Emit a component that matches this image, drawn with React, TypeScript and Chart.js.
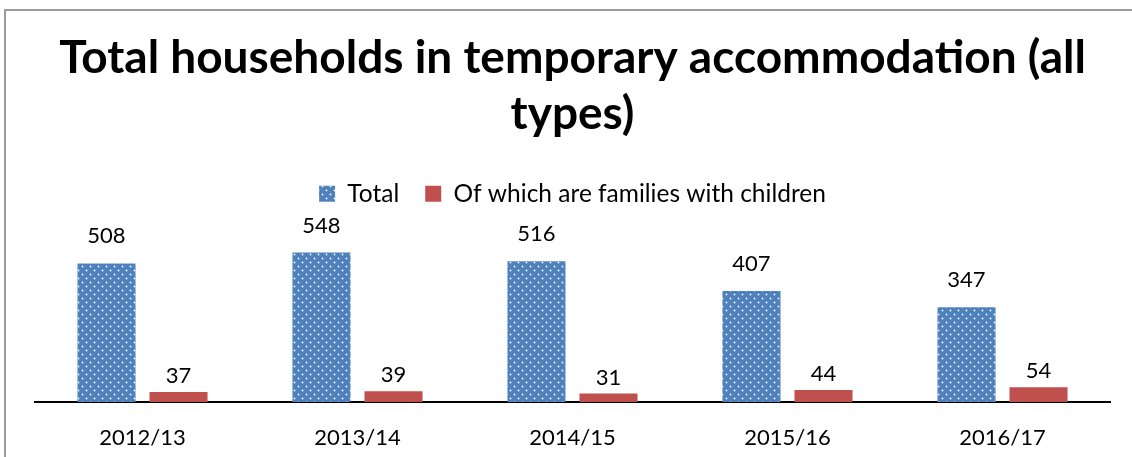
import React, { useEffect, useRef } from "react";
import { Chart, registerables } from "chart.js";

Chart.register(...registerables);

const categories = ["2012/13", "2013/14", "2014/15", "2015/16", "2016/17"];
const totalValues = [508, 548, 516, 407, 347];
const familyValues = [37, 39, 31, 44, 54];
const seriesNames = ["Total", "Of which are families with children"];
const titleLines = ["Total households in temporary accommodation (all", "types)"];

const FONT = "Lato, 'Open Sans', sans-serif";

function makeDotPattern(): CanvasPattern | string {
  const c = document.createElement("canvas");
  c.width = 8;
  c.height = 8;
  const ctx = c.getContext("2d");
  if (!ctx) return "#4F81BD";
  ctx.fillStyle = "#4F81BD";
  ctx.fillRect(0, 0, 8, 8);
  const dot = (x: number, y: number) => {
    ctx.fillStyle = "rgba(255,255,255,0.9)";
    ctx.fillRect(x, y, 1, 1);
    ctx.fillStyle = "rgba(255,255,255,0.4)";
    ctx.fillRect(x - 1, y, 1, 1);
    ctx.fillRect(x + 1, y, 1, 1);
    ctx.fillRect(x, y - 1, 1, 1);
    ctx.fillRect(x, y + 1, 1, 1);
  };
  dot(2, 2);
  dot(6, 6);
  const p = ctx.createPattern(c, "repeat");
  return p || "#4F81BD";
}

const borderPlugin = {
  id: "frameBorder",
  beforeDraw(chart: any) {
    const ctx = chart.ctx;
    ctx.save();
    ctx.strokeStyle = "#9a9a9a";
    ctx.lineWidth = 2;
    ctx.beginPath();
    ctx.moveTo(5, chart.height + 5);
    ctx.lineTo(5, 10);
    ctx.lineTo(chart.width + 5, 10);
    ctx.stroke();
    ctx.restore();
  },
};

const valueLabelPlugin = {
  id: "valueLabels",
  afterDatasetsDraw(chart: any) {
    const ctx = chart.ctx;
    ctx.save();
    ctx.font = `22px ${FONT}`;
    ctx.fillStyle = "#000";
    ctx.textAlign = "center";
    ctx.textBaseline = "middle";
    const offsets = [27, 16];
    chart.data.datasets.forEach((ds: any, di: number) => {
      const meta = chart.getDatasetMeta(di);
      meta.data.forEach((bar: any, i: number) => {
        ctx.fillText(String(ds.data[i]), bar.x, bar.y - offsets[di]);
      });
    });
    ctx.restore();
  },
};

export default function App() {
  const ref = useRef<HTMLCanvasElement | null>(null);
  useEffect(() => {
    if (!ref.current) return;
    const chart = new Chart(ref.current, {
      type: "bar",
      data: {
        labels: categories,
        datasets: [
          {
            label: seriesNames[0],
            data: totalValues,
            backgroundColor: makeDotPattern() as any,
            borderWidth: 0,
          },
          {
            label: seriesNames[1],
            data: familyValues,
            backgroundColor: "#C0504D",
            borderWidth: 0,
          },
        ],
      },
      options: {
        responsive: false,
        animation: false,
        events: [],
        datasets: {
          bar: { categoryPercentage: 0.67, barPercentage: 0.806 },
        },
        layout: { padding: { left: 35, right: 22, top: 0, bottom: 0 } },
        plugins: {
          title: {
            display: true,
            text: titleLines,
            color: "#000",
            font: { family: FONT, size: 46, weight: "bold", lineHeight: 1.2 },
            padding: { top: 31, bottom: 14 },
          },
          legend: {
            display: true,
            position: "top",
            labels: {
              color: "#000",
              font: { family: FONT, size: 24.5 },
              boxWidth: 16,
              boxHeight: 16,
              padding: 26,
            },
          },
          tooltip: { enabled: false },
        },
        scales: {
          x: {
            grid: { display: false, drawTicks: false },
            border: { display: true, color: "#000", width: 2 },
            ticks: { color: "#000", font: { family: FONT, size: 22 }, padding: 23 },
            afterFit(scale: any) {
              scale.height = 55;
            },
          },
          y: {
            display: false,
            min: 0,
            max: 682,
          },
        },
      },
      plugins: [borderPlugin, valueLabelPlugin],
    });
    return () => chart.destroy();
  }, []);
  return (
    <div style={{ position: "fixed", left: 0, top: 0, width: 1132, height: 457, background: "#fff" }}>
      <canvas ref={ref} width={1132} height={457} style={{ display: "block" }} />
    </div>
  );
}
